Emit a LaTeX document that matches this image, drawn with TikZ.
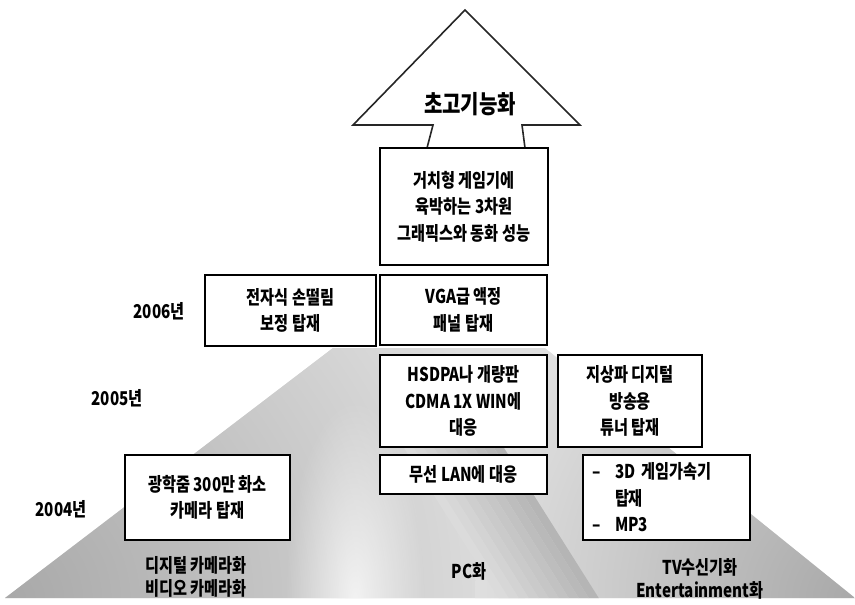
\documentclass[tikz,border=0pt]{standalone}
\usepackage{fontspec}
\usetikzlibrary{fadings}
\tikzfading[name=softspot, inner color=transparent!0, outer color=transparent!100]
\newfontfamily\kr[FakeStretch=0.8]{Noto Sans CJK KR}
\begin{document}
\begin{tikzpicture}[x=1pt,y=-1pt,
  box/.style={draw=black, line width=1.8pt, fill=white, inner sep=0pt, align=center,
    font=\kr\bfseries\fontsize{19}{26.5}\selectfont},
  year/.style={font=\kr\bfseries\fontsize{19}{24}\selectfont, inner sep=0pt},
  lab/.style={font=\kr\bfseries\fontsize{19}{23}\selectfont, align=center, inner sep=0pt},
  arrowline/.style={draw=black!85, line width=1.6pt, line join=miter, fill=white},
  bigtext/.style={font=\kr\bfseries\fontsize{25}{30}\selectfont, inner sep=0pt}]
\useasboundingbox (0,0) rectangle (855,605);
% ---------- background mountains ----------
\begin{scope}
  \clip (5,598) -- (333,348) -- (545,348) -- (855,598) -- cycle;
  \fill[gray!25] (0,340) rectangle (855,605);
  \shade[inner color=gray!68, outer color=gray!25] (5,600) circle (520);
  \shade[inner color=gray!68, outer color=gray!25] (855,600) circle (380);
  \fill[white, fill opacity=0.75, path fading=softspot] (355,600) ellipse (70 and 200);
  \foreach \k in {0,...,9} {
    \pgfmathsetmacro\g{58-\k*3.3}
    \fill[gray!\g] ({499-(\k+1)*10},440) -- ({499-\k*10},440) -- ({600-\k*10},600) -- ({600-(\k+1)*10},600) -- cycle;
  }
\end{scope}
% ---------- arrow ----------
\coordinate (sLb) at (427,148);
\coordinate (sL) at (433,125);
\coordinate (aL) at (353,125);
\coordinate (apex) at (465,10);
\coordinate (aR) at (580,125);
\coordinate (sR) at (522,125);
\coordinate (sRb) at (525,148);
\draw[arrowline] (sLb) -- (sL) -- (aL) -- (apex) -- (aR) -- (sR) -- (sRb);
\node[bigtext] (ult) at (470,104) {초고기능화};
% ---------- boxes ----------
\node[box, minimum width=168pt, minimum height=117pt] (top) at (464,206.5)
  {거치형 게임기에\\육박하는 3차원\\그래픽스와 동화 성능};
\node[box, minimum width=171pt, minimum height=71pt] (e06) at (290.5,310.5)
  {전자식 손떨림\\보정 탑재};
\node[box, minimum width=167pt, minimum height=70pt] (v06) at (463.5,310)
  {VGA급 액정\\패널 탑재};
\node[box, minimum width=167pt, minimum height=92pt] (h05) at (463.5,401)
  {HSDPA나 개량판\\CDMA 1X WIN에\\대응};
\node[box, minimum width=144pt, minimum height=92pt] (t05) at (630,401)
  {지상파 디지털\\방송용\\튜너 탑재};
\node[box, minimum width=165pt, minimum height=85pt] (c04) at (207.5,497.5)
  {광학줌 300만 화소\\카메라 탑재};
\node[box, minimum width=167pt, minimum height=39pt] (w04) at (463.5,474.5)
  {무선 LAN에 대응};
\node[box, minimum width=167pt, minimum height=85pt, text width=149pt, align=left] (g04) at (666.5,497.5)
  {\makebox[23pt][l]{–}3D 게임가속기\\\hspace*{23pt}탑재\\\makebox[23pt][l]{–}MP3};
% ---------- year labels ----------
\node[year] (y06) at (159,311) {2006년};
\node[year] (y05) at (117,398) {2005년};
\node[year] (y04) at (61,509) {2004년};
% ---------- bottom labels ----------
\node[lab] (cam) at (196,577) {디지털 카메라화\\비디오 카메라화};
\node[lab] (pc) at (469,571) {PC화};
\node[lab] (tv) at (700,579) {TV수신기화\\Entertainment화};
\end{tikzpicture}
\end{document}
